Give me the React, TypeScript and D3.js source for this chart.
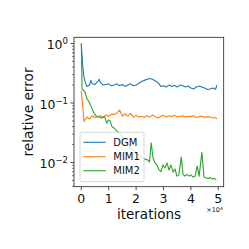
import React from "react";
import * as d3 from "d3";

// iterations -> relative error
const dgm: [number, number][] = [
  [0, 1.0], [500, 0.42], [1000, 0.27], [1500, 0.22], [2000, 0.19], [3000, 0.2],
  [3500, 0.24], [4000, 0.21], [5000, 0.205], [6000, 0.23], [6500, 0.25], [7000, 0.22],
  [8000, 0.2], [9000, 0.205], [10000, 0.21], [11000, 0.195], [12000, 0.2], [13000, 0.21],
  [14000, 0.195], [15000, 0.205], [16000, 0.19], [17000, 0.2], [18000, 0.21], [19000, 0.195],
  [20000, 0.2], [21000, 0.215], [22000, 0.23], [23000, 0.24], [24000, 0.25], [25000, 0.258],
  [26000, 0.25], [27000, 0.235], [28000, 0.22], [29000, 0.19], [30000, 0.195], [31000, 0.186],
  [32000, 0.2], [33000, 0.19], [34000, 0.197], [35000, 0.186], [36000, 0.2], [37000, 0.195],
  [38000, 0.186], [39000, 0.193], [40000, 0.179], [41000, 0.172], [42000, 0.186], [43000, 0.193],
  [44000, 0.186], [45000, 0.179], [46000, 0.169], [47000, 0.172], [48000, 0.179], [49000, 0.17],
  [49500, 0.2],
];

const mim1: [number, number][] = [
  [0, 0.16], [1000, 0.049], [2000, 0.058], [3000, 0.054], [4000, 0.061], [5000, 0.057],
  [6000, 0.059], [7000, 0.061], [8000, 0.058], [9000, 0.063], [10000, 0.06], [11000, 0.065],
  [12000, 0.064], [13000, 0.068], [14000, 0.076], [15000, 0.06], [16000, 0.066], [17000, 0.06],
  [18000, 0.067], [19000, 0.058], [20000, 0.062], [21000, 0.058], [22000, 0.06], [23000, 0.057],
  [24000, 0.061], [25000, 0.058], [26000, 0.063], [27000, 0.059], [28000, 0.056], [29000, 0.06],
  [30000, 0.062], [31000, 0.058], [32000, 0.061], [33000, 0.059], [34000, 0.062], [35000, 0.058],
  [36000, 0.06], [37000, 0.061], [38000, 0.058], [39000, 0.06], [40000, 0.059], [41000, 0.061],
  [42000, 0.057], [43000, 0.059], [44000, 0.06], [45000, 0.057], [46000, 0.059], [47000, 0.058],
  [48000, 0.056], [49000, 0.057], [49500, 0.054],
];

const mim2: [number, number][] = [
  [0, 1.0], [300, 0.17], [700, 0.165], [1350, 0.153], [2000, 0.12], [2800, 0.104],
  [3650, 0.086], [4600, 0.068], [5500, 0.06], [6500, 0.058], [7500, 0.056], [8500, 0.059],
  [9300, 0.046], [10000, 0.052], [10500, 0.05], [11200, 0.04], [12000, 0.038], [12900, 0.034],
  [14000, 0.031], [15000, 0.027], [16000, 0.024], [17000, 0.02], [18000, 0.0175], [19000, 0.016],
  [20000, 0.0144], [21000, 0.0134], [22000, 0.0124], [23000, 0.0115], [24300, 0.011], [24900, 0.0102],
  [25500, 0.0215], [26200, 0.0119], [26900, 0.0098], [27600, 0.0091], [28400, 0.0075], [29100, 0.007],
  [29800, 0.0091], [30500, 0.0081], [31300, 0.0098], [32000, 0.0075], [32700, 0.0091], [33500, 0.0069],
  [34200, 0.0078], [34900, 0.0059], [35600, 0.0062], [36500, 0.0124], [37100, 0.0064], [37800, 0.0059],
  [38600, 0.0063], [39300, 0.0059], [40000, 0.0062], [40800, 0.0057], [41500, 0.0059], [42300, 0.0087],
  [43000, 0.0059], [44000, 0.0148], [44800, 0.0057], [45500, 0.0055], [46300, 0.0054], [47000, 0.0056],
  [47700, 0.0053], [48400, 0.0054], [49300, 0.0052],
];

const seriesNames = ["DGM", "MIM1", "MIM2"];
const seriesColors = ["#1f77b4", "#ff7f0e", "#2ca02c"];
const xTickValues = [0, 10000, 20000, 30000, 40000, 50000];
const xTickLabels = ["0", "1", "2", "3", "4", "5"];
const yTickExps = [0, -1, -2];

const W = 249;
const H = 249;
const box = { left: 74, right: 223.7, top: 37.3, bottom: 186.7 };
const font = "DejaVu Sans, sans-serif";

const App: React.FC = () => {
  const x = d3.scaleLinear().domain([0, 50000]).range([81.3, 218.3]);
  const y = d3.scaleLog().domain([1, 0.01]).range([43.5, 162.5]);
  const line = d3
    .line<[number, number]>()
    .x((d) => x(d[0]))
    .y((d) => y(d[1]));

  const minor: number[] = [];
  [0.001, 0.01, 0.1].forEach((base) => {
    for (let k = 2; k <= 9; k++) {
      const v = base * k;
      const py = y(v);
      if (py >= box.top && py <= box.bottom) minor.push(v);
    }
  });

  const data = [dgm, mim1, mim2];
  const legendRows = [142.3, 156.7, 170.7];

  return (
    <svg
      width={W}
      height={H}
      style={{ position: "absolute", left: 0, top: 0, background: "#fff" }}
      fontFamily={font}
    >
      <defs>
        <clipPath id="plot">
          <rect x={box.left} y={box.top} width={box.right - box.left} height={box.bottom - box.top} />
        </clipPath>
      </defs>
      <g clipPath="url(#plot)">
        {data.map((d, i) => (
          <path key={i} d={line(d) || ""} fill="none" stroke={seriesColors[i]} strokeWidth={1.1} strokeLinejoin="round" />
        ))}
      </g>
      <rect
        x={box.left}
        y={box.top}
        width={box.right - box.left}
        height={box.bottom - box.top}
        fill="none"
        stroke="#222"
        strokeWidth={0.8}
      />
      {xTickValues.map((t, i) => (
        <g key={t}>
          <line x1={x(t)} x2={x(t)} y1={box.bottom} y2={box.bottom + 3.5} stroke="#222" strokeWidth={0.8} />
          <text x={x(t)} y={203.3} fontSize={12.5} textAnchor="middle" fill="#111">
            {xTickLabels[i]}
          </text>
        </g>
      ))}
      <text x={214.5} y={212} fontSize={6.5} textAnchor="middle" fill="#111">
        ×10<tspan dy={-2.5} fontSize={4.5}>4</tspan>
      </text>
      {yTickExps.map((e) => (
        <g key={e}>
          <line x1={box.left - 3.5} x2={box.left} y1={y(10 ** e)} y2={y(10 ** e)} stroke="#222" strokeWidth={0.8} />
          <text x={68} y={y(10 ** e) + 5.5} fontSize={12.5} textAnchor="end" fill="#111">
            10<tspan dy={-5} fontSize={8.5}>{e === 0 ? "0" : "\u2212" + String(-e)}</tspan>
          </text>
        </g>
      ))}
      {minor.map((v) => (
        <line key={v} x1={box.left - 2} x2={box.left} y1={y(v)} y2={y(v)} stroke="#222" strokeWidth={0.6} />
      ))}
      <text x={149} y={219} fontSize={13.5} textAnchor="middle" fill="#111">
        iterations
      </text>
      <text
        transform={`translate(33,${(box.top + box.bottom) / 2}) rotate(-90)`}
        fontSize={13.7}
        textAnchor="middle"
        fill="#111"
      >
        relative error
      </text>
      <rect x={80} y={132.3} width={64} height={49.4} rx={2} fill="#fff" fillOpacity={0.8} stroke="#ccc" strokeWidth={0.8} />
      {seriesNames.map((name, i) => (
        <g key={name}>
          <line x1={83.3} x2={105.7} y1={legendRows[i]} y2={legendRows[i]} stroke={seriesColors[i]} strokeWidth={1.1} />
          <text x={113.3} y={legendRows[i] + 3.6} fontSize={10} fill="#111">
            {name}
          </text>
        </g>
      ))}
    </svg>
  );
};

export default App;
